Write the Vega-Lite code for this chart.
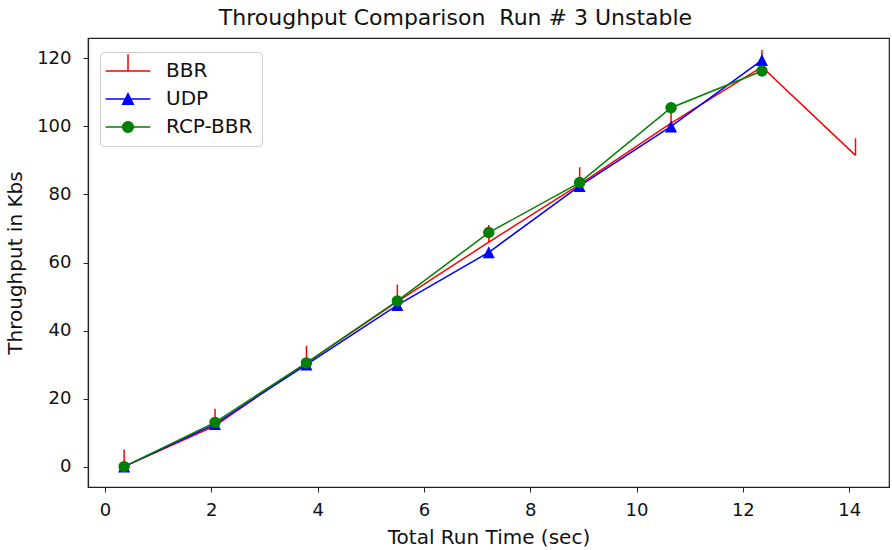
{
  "$schema": "https://vega.github.io/schema/vega-lite/v6.json",
  "width": 801,
  "height": 449,
  "autosize": "none",
  "padding": {"left": 88, "top": 38, "right": 3, "bottom": 63},
  "background": "white",
  "title": {
    "text": "Throughput Comparison\u00a0 Run # 3 Unstable",
    "font": "DejaVu Sans",
    "fontSize": 22,
    "fontWeight": "normal",
    "color": "#111",
    "offset": 8,
    "anchor": "middle",
    "dx": -33
  },
  "config": {
    "view": {"stroke": "#222", "strokeWidth": 1.2},
    "axis": {
      "grid": false,
      "domainColor": "#222",
      "domainWidth": 1.2,
      "tickColor": "#222",
      "tickSize": 5,
      "tickWidth": 1,
      "labelFont": "DejaVu Sans",
      "labelFontSize": 18,
      "labelColor": "#111",
      "titleFont": "DejaVu Sans",
      "titleFontSize": 20,
      "titleFontWeight": "normal",
      "titleColor": "#111"
    }
  },
  "data": {
    "values": [
      {"series": "BBR", "t": 0.36, "v": 0},
      {"series": "BBR", "t": 2.07, "v": 12},
      {"series": "BBR", "t": 3.79, "v": 30.5},
      {"series": "BBR", "t": 5.5, "v": 48.5},
      {"series": "BBR", "t": 7.22, "v": 66},
      {"series": "BBR", "t": 8.93, "v": 83},
      {"series": "BBR", "t": 10.65, "v": 101},
      {"series": "BBR", "t": 12.36, "v": 117.5},
      {"series": "BBR", "t": 14.12, "v": 91.5},
      {"series": "UDP", "t": 0.36, "v": 0},
      {"series": "UDP", "t": 2.07, "v": 12.5},
      {"series": "UDP", "t": 3.79, "v": 30},
      {"series": "UDP", "t": 5.5, "v": 47.5},
      {"series": "UDP", "t": 7.22, "v": 63},
      {"series": "UDP", "t": 8.93, "v": 82.5},
      {"series": "UDP", "t": 10.65, "v": 100},
      {"series": "UDP", "t": 12.36, "v": 119.5},
      {"series": "RCP-BBR", "t": 0.36, "v": 0},
      {"series": "RCP-BBR", "t": 2.07, "v": 13},
      {"series": "RCP-BBR", "t": 3.79, "v": 30.5},
      {"series": "RCP-BBR", "t": 5.5, "v": 48.7},
      {"series": "RCP-BBR", "t": 7.22, "v": 68.8},
      {"series": "RCP-BBR", "t": 8.93, "v": 83.5},
      {"series": "RCP-BBR", "t": 10.65, "v": 105.5},
      {"series": "RCP-BBR", "t": 12.36, "v": 116.3}
    ]
  },
  "encoding": {
    "x": {
      "field": "t",
      "type": "quantitative",
      "scale": {"domain": [-0.32, 14.75], "nice": false, "zero": false},
      "axis": {"values": [0, 2, 4, 6, 8, 10, 12, 14], "title": "Total Run Time (sec)", "labelPadding": 9, "titlePadding": 8}
    },
    "y": {
      "field": "v",
      "type": "quantitative",
      "scale": {"domain": [-6, 126], "nice": false, "zero": false},
      "axis": {"values": [0, 20, 40, 60, 80, 100, 120], "title": "Throughput in Kbs", "labelPadding": 12, "titlePadding": 11}
    }
  },
  "layer": [
    {
      "mark": {"type": "line", "strokeWidth": 1.5},
      "encoding": {
        "color": {
          "field": "series",
          "type": "nominal",
          "scale": {"domain": ["BBR", "UDP", "RCP-BBR"], "range": ["#ff0000", "#0000ff", "#008000"]}
        },
        "detail": {"field": "series"}
      }
    },
    {
      "transform": [{"filter": "datum.series == 'BBR'"}],
      "mark": {"type": "point", "shape": "M0,0L0,-2", "size": 289, "filled": false, "stroke": "#ff0000", "strokeWidth": 1.5, "opacity": 1}
    },
    {
      "transform": [{"filter": "datum.series == 'UDP'"}],
      "mark": {"type": "point", "shape": "M0,-1L-1,1L1,1Z", "size": 144, "filled": true, "fill": "#0000ff", "strokeWidth": 0, "opacity": 1}
    },
    {
      "transform": [{"filter": "datum.series == 'RCP-BBR'"}],
      "mark": {"type": "point", "shape": "circle", "size": 130, "filled": true, "fill": "#008000", "strokeWidth": 0, "opacity": 1}
    },
    {
      "mark": {"type": "point", "filled": true, "opacity": 0},
      "encoding": {
        "color": {
          "field": "series",
          "type": "nominal",
          "scale": {"domain": ["BBR", "UDP", "RCP-BBR"], "range": ["#ff0000", "#0000ff", "#008000"]},
          "legend": {
            "title": null,
            "orient": "none",
            "legendX": 12,
            "legendY": 14,
            "padding": 9,
            "cornerRadius": 4,
            "strokeColor": "#cccccc",
            "fillColor": "white",
            "labelFont": "DejaVu Sans",
            "labelFontSize": 20,
            "labelColor": "#111",
            "symbolSize": 125,
            "symbolOffset": 9,
            "labelOffset": 28,
            "rowPadding": 8,
            "symbolStrokeWidth": 1.5,
            "encode": {
              "symbols": {
                "update": {
                  "fill": {"scale": "color", "field": "value"},
                  "stroke": {"scale": "color", "field": "value"},
                  "shape": {"scale": "shape", "field": "value"},
                  "strokeWidth": {"value": 1.5},
                  "opacity": {"value": 1}
                }
              }
            }
          }
        },
        "shape": {
          "field": "series",
          "type": "nominal",
          "scale": {
            "domain": ["BBR", "UDP", "RCP-BBR"],
            "range": [
              "M-4,0L4,0M0,0L0,-3",
              "M-4,0L4,0M0,-0.95L-0.95,0.95L0.95,0.95Z",
              "M-4,0L4,0M0.95,0A0.95,0.95,0,1,1,-0.95,0A0.95,0.95,0,1,1,0.95,0Z"
            ]
          }
        }
      }
    }
  ]
}
